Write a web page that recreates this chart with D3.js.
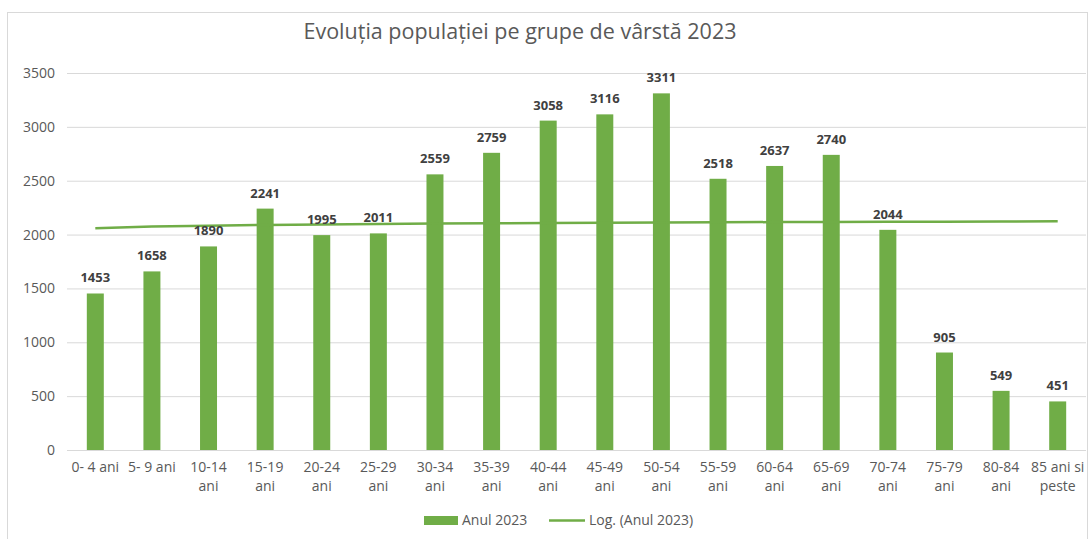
<!DOCTYPE html>
<html><head><meta charset="utf-8">
<script src="https://cdn.jsdelivr.net/npm/d3@7"></script>
<style>body{margin:0;background:#fff}svg{display:block}</style>
</head><body>
<svg id="c" width="1090" height="539"></svg>
<script>
const categories = ["0- 4 ani","5- 9 ani","10-14 ani","15-19 ani","20-24 ani","25-29 ani","30-34 ani","35-39 ani","40-44 ani","45-49 ani","50-54 ani","55-59 ani","60-64 ani","65-69 ani","70-74 ani","75-79 ani","80-84 ani","85 ani si peste"];
const labelLines = [["0- 4 ani"],["5- 9 ani"],["10-14","ani"],["15-19","ani"],["20-24","ani"],["25-29","ani"],["30-34","ani"],["35-39","ani"],["40-44","ani"],["45-49","ani"],["50-54","ani"],["55-59","ani"],["60-64","ani"],["65-69","ani"],["70-74","ani"],["75-79","ani"],["80-84","ani"],["85 ani si","peste"]];
const values = [1453,1658,1890,2241,1995,2011,2559,2759,3058,3116,3311,2518,2637,2740,2044,905,549,451];
const trendValues = [2058,2074,2083,2089,2094,2098,2102,2105,2107,2110,2112,2114,2116,2117,2119,2120,2122,2123];
const yTicks = [0,500,1000,1500,2000,2500,3000,3500];
const title = "Evoluția populației pe grupe de vârstă 2023";
const seriesName = "Anul 2023";
const trendName = "Log. (Anul 2023)";

const font = "'Open Sans', sans-serif";
const green = "#70AD47";
const svg = d3.select("#c");
svg.append("rect").attr("x",7.5).attr("y",12.5).attr("width",1080).attr("height",540)
  .attr("fill","#fff").attr("stroke","#D9D9D9");

const x = d3.scaleBand().domain(categories).range([67,1086]).paddingInner(0.7).paddingOuter(0.35);
const y = d3.scaleLinear().domain([0,3500]).range([450,73]);

svg.append("text").attr("x",520).attr("y",39).attr("text-anchor","middle")
  .attr("font-family",font).attr("font-size",21.5).attr("fill","#595959").text(title);

// grid
svg.append("g").selectAll("line").data(yTicks).join("line")
  .attr("x1",67).attr("x2",1086).attr("y1",d=>y(d)+0.5).attr("y2",d=>y(d)+0.5)
  .attr("stroke","#D9D9D9").attr("stroke-width",1);

const yAxis = svg.append("g").attr("transform","translate(55,0)")
  .call(d3.axisLeft(y).tickValues(yTicks).tickFormat(d3.format("d")).tickSize(0).tickPadding(0));
yAxis.select(".domain").remove();
yAxis.selectAll("text").attr("font-family",font).attr("font-size",14).attr("fill","#595959");

// bars
svg.append("g").selectAll("rect").data(values).join("rect")
  .attr("x",(d,i)=>x(categories[i])).attr("width",x.bandwidth())
  .attr("y",d=>y(d)).attr("height",d=>y(0)-y(d)).attr("fill",green);

// trend line
const line = d3.line().x((d,i)=>x(categories[i])+x.bandwidth()/2).y(d=>y(d));
svg.append("path").datum(trendValues).attr("d",line).attr("fill","none")
  .attr("stroke",green).attr("stroke-width",2.5);

// data labels
svg.append("g").selectAll("text").data(values).join("text")
  .attr("x",(d,i)=>x(categories[i])+x.bandwidth()/2).attr("y",d=>y(d)-11)
  .attr("text-anchor","middle").attr("font-family",font).attr("font-weight","bold")
  .attr("font-size",13).attr("fill","#404040").text(d=>d);

// x labels
const xl = svg.append("g");
labelLines.forEach((lines,i)=>{
  const t = xl.append("text").attr("x",x(categories[i])+x.bandwidth()/2).attr("y",472)
    .attr("text-anchor","middle").attr("font-family",font).attr("font-size",14).attr("fill","#595959");
  lines.forEach((l,j)=>t.append("tspan").attr("x",x(categories[i])+x.bandwidth()/2).attr("dy",j?19:0).text(l));
});

// legend
const lg = svg.append("g");
lg.append("rect").attr("x",424).attr("y",516).attr("width",34).attr("height",9).attr("fill",green);
lg.append("text").attr("x",462).attr("y",525).attr("font-family",font).attr("font-size",14).attr("fill","#595959").text(seriesName);
lg.append("line").attr("x1",549).attr("x2",585).attr("y1",520.5).attr("y2",520.5).attr("stroke",green).attr("stroke-width",2.5);
lg.append("text").attr("x",589).attr("y",525).attr("font-family",font).attr("font-size",14).attr("fill","#595959").text(trendName);
</script>
</body></html>
